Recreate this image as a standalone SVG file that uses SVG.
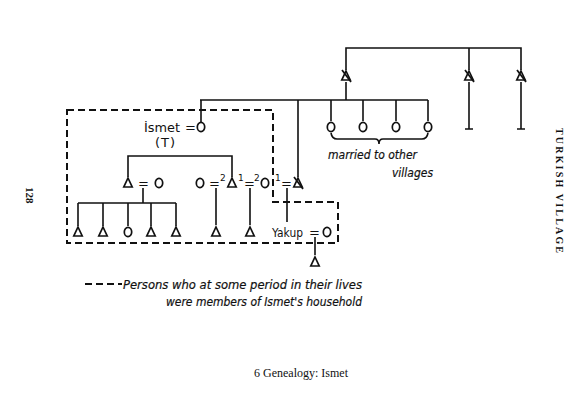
<svg xmlns="http://www.w3.org/2000/svg" width="585" height="405" viewBox="0 0 585 405">
<style>
.l{stroke:#111;stroke-width:1.6;fill:none}
.d{stroke:#111;stroke-width:2;fill:none;stroke-dasharray:7 4}
.s{fill:none;stroke:#111;stroke-width:1.7}
.t{font-family:"DejaVu Sans","Liberation Sans",sans-serif;font-size:13px;fill:#111}
.sup{font-family:"DejaVu Sans","Liberation Sans",sans-serif;font-size:9px;fill:#111}
.i{font-family:"DejaVu Sans","Liberation Sans",sans-serif;font-size:12px;font-style:italic;fill:#111;stroke:#111;stroke-width:0.2}
.sf{font-family:"Liberation Serif",serif;fill:#111}
</style>
<defs>
<path id="tri" d="M0,-5 L4.2,4 L-4.2,4 Z" class="s"/>
<g id="xtri"><path d="M0,-5 L4.2,4 L-4.2,4 Z" class="s"/><path d="M-4,-6 L5,6" class="s"/></g>
<ellipse id="cir" cx="0" cy="0" rx="3.7" ry="4.7" class="s"/>
</defs>
<rect width="585" height="405" fill="#fff"/>
<g id="connectors">
<path class="l" d="M346,70 V48 H521 V70 M469,48 V70"/>
<path class="l" d="M346,82 V100 M200,100 H428 M201,100 V122 M298,100 V177 M331,100 V121 M363,100 V121 M396,100 V121 M428,100 V121"/>
<path class="l" d="M469,82 V129 M465,129 H473 M521,82 V129 M517,129 H525"/>
<path class="l" d="M331,133 Q332,139 337,139 H375 Q379,139 379,144 Q379,139 383,139 H422 Q427,139 428,133"/>
<path class="l" d="M128,177 V156 H232 V177"/>
<path class="l" d="M143,188 V203 M78,203 H176 M78,203 V226 M103,203 V226 M128,203 V226 M151,203 V226 M176,203 V226"/>
<path class="l" d="M216,188 V225 M250,188 V225 M287,188 V222 M315,237 V255"/>
</g>
<g id="household"><path class="d" d="M67,110 H273 V202 H338 V243 H67 Z"/></g>
<g id="gen0">
<use href="#xtri" x="346" y="76"/>
<use href="#xtri" x="469" y="76"/>
<use href="#xtri" x="521" y="76"/>
</g>
<g id="daughters">
<use href="#cir" x="331" y="127"/>
<use href="#cir" x="363" y="127"/>
<use href="#cir" x="396" y="127"/>
<use href="#cir" x="428" y="127"/>
<text class="i" x="328" y="159" textLength="89" lengthAdjust="spacingAndGlyphs">married to other</text>
<text class="i" x="392" y="177" textLength="41" lengthAdjust="spacingAndGlyphs">villages</text>
</g>
<g id="ismet">
<text class="t" x="144" y="132" textLength="36" lengthAdjust="spacingAndGlyphs">İsmet</text>
<text class="t" x="185" y="132">=</text>
<use href="#cir" x="201" y="127"/>
<text class="t" x="155" y="147" letter-spacing="1">(T)</text>
</g>
<g id="gen2">
<use href="#tri" x="128" y="183"/>
<text class="t" x="138" y="188">=</text>
<use href="#cir" x="159" y="183"/>
<use href="#cir" x="200" y="183"/>
<text class="t" x="209" y="188">=</text>
<text class="sup" x="220" y="181">2</text>
<use href="#tri" x="232" y="183"/>
<text class="sup" x="238" y="181">1</text>
<text class="t" x="244" y="188">=</text>
<text class="sup" x="254" y="181">2</text>
<use href="#cir" x="265" y="183"/>
<text class="sup" x="275" y="181">1</text>
<text class="t" x="281" y="188">=</text>
<use href="#xtri" x="298" y="183"/>
</g>
<g id="gen3">
<use href="#tri" x="78" y="232"/>
<use href="#tri" x="103" y="232"/>
<use href="#cir" x="128" y="232"/>
<use href="#tri" x="151" y="232"/>
<use href="#tri" x="176" y="232"/>
<use href="#tri" x="216" y="232"/>
<use href="#tri" x="250" y="232"/>
<text class="t" x="272" y="237" textLength="31" lengthAdjust="spacingAndGlyphs">Yakup</text>
<text class="t" x="309" y="237">=</text>
<use href="#cir" x="327" y="232"/>
<use href="#tri" x="315" y="262"/>
</g>
<g id="legend">
<path class="d" d="M85,284 H122" stroke-dasharray="7 3"/>
<text class="i" x="123" y="289" textLength="239" lengthAdjust="spacingAndGlyphs">Persons who at some period in their lives</text>
<text class="i" x="166" y="306" textLength="196" lengthAdjust="spacingAndGlyphs">were members of Ismet's household</text>
</g>
<text class="sf" x="301" y="377" font-size="12" text-anchor="middle">6 Genealogy: Ismet</text>
<text class="sf" font-size="11" font-weight="bold" transform="translate(26,187) rotate(90)">128</text>
<text class="sf" font-size="10" font-weight="bold" letter-spacing="2" transform="translate(556,128) rotate(90)" textLength="127">TURKISH   VILLAGE</text>
</svg>
